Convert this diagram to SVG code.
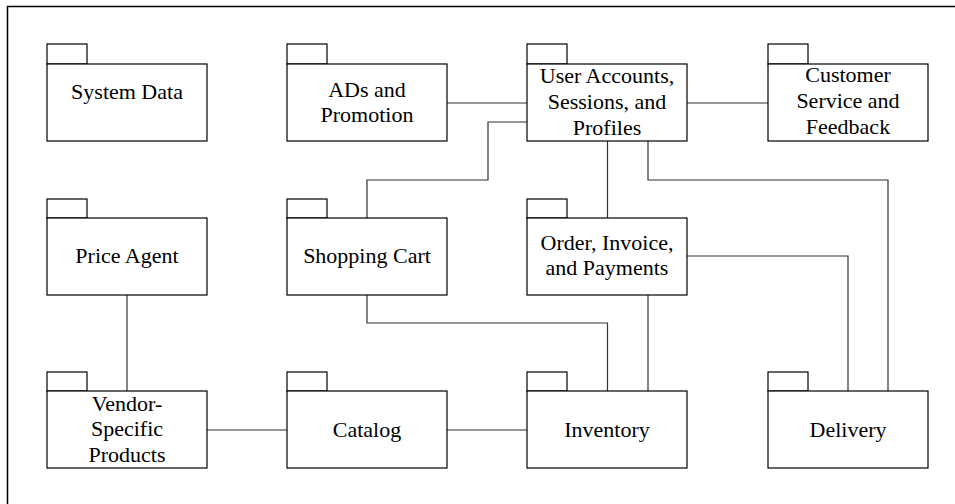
<svg xmlns="http://www.w3.org/2000/svg" width="955" height="504" viewBox="0 0 955 504">
<style>
.pkg{fill:#fff;stroke:#000;stroke-width:1.2}
.lbl{font-family:"Liberation Serif","Times New Roman",serif;font-size:22px;fill:#000;text-anchor:middle}
.con{fill:none;stroke:#333;stroke-width:1.2}
.frame{fill:none;stroke:#000;stroke-width:1.5}
</style>
<rect x="0" y="0" width="955" height="504" fill="#fff"/>
<path class="frame" d="M7.5,504 V6.5 H955"/>
<g id="connectors">
<path class="con" d="M447,103 H527"/>
<path class="con" d="M687,103 H768"/>
<path class="con" d="M367,218 V180 H488 V122 H527"/>
<path class="con" d="M607.5,141 V218"/>
<path class="con" d="M648,141 V180 H888 V391"/>
<path class="con" d="M687,256 H848 V391"/>
<path class="con" d="M648,295 V391"/>
<path class="con" d="M367,295 V323 H607.5 V391"/>
<path class="con" d="M127,295 V391"/>
<path class="con" d="M207,430 H287"/>
<path class="con" d="M447,430 H527"/>
</g>
<g id="system-data">
<rect class="pkg" x="47" y="44" width="40" height="20"/>
<rect class="pkg" x="47" y="64" width="160" height="77"/>
<text class="lbl" x="127" y="99">System Data</text>
</g>
<g id="ads-promotion">
<rect class="pkg" x="287" y="44" width="40" height="20"/>
<rect class="pkg" x="287" y="64" width="160" height="77"/>
<text class="lbl" x="367" y="97">ADs and</text>
<text class="lbl" x="367" y="122">Promotion</text>
</g>
<g id="user-accounts">
<rect class="pkg" x="527" y="44" width="40" height="20"/>
<rect class="pkg" x="527" y="64" width="160" height="77"/>
<text class="lbl" x="607" y="83">User Accounts,</text>
<text class="lbl" x="607" y="109">Sessions, and</text>
<text class="lbl" x="607" y="135">Profiles</text>
</g>
<g id="customer-service">
<rect class="pkg" x="768" y="44" width="40" height="20"/>
<rect class="pkg" x="768" y="64" width="160" height="77"/>
<text class="lbl" x="848" y="82">Customer</text>
<text class="lbl" x="848" y="108">Service and</text>
<text class="lbl" x="848" y="134">Feedback</text>
</g>
<g id="price-agent">
<rect class="pkg" x="47" y="199" width="40" height="19"/>
<rect class="pkg" x="47" y="218" width="160" height="77"/>
<text class="lbl" x="127" y="263">Price Agent</text>
</g>
<g id="shopping-cart">
<rect class="pkg" x="287" y="199" width="40" height="19"/>
<rect class="pkg" x="287" y="218" width="160" height="77"/>
<text class="lbl" x="367" y="263">Shopping Cart</text>
</g>
<g id="order-invoice">
<rect class="pkg" x="527" y="199" width="40" height="19"/>
<rect class="pkg" x="527" y="218" width="160" height="77"/>
<text class="lbl" x="607" y="250">Order, Invoice,</text>
<text class="lbl" x="607" y="275">and Payments</text>
</g>
<g id="vendor-products">
<rect class="pkg" x="47" y="372" width="40" height="19"/>
<rect class="pkg" x="47" y="391" width="160" height="77"/>
<text class="lbl" x="127" y="411">Vendor-</text>
<text class="lbl" x="127" y="436">Specific</text>
<text class="lbl" x="127" y="462">Products</text>
</g>
<g id="catalog">
<rect class="pkg" x="287" y="372" width="40" height="19"/>
<rect class="pkg" x="287" y="391" width="160" height="77"/>
<text class="lbl" x="367" y="437">Catalog</text>
</g>
<g id="inventory">
<rect class="pkg" x="527" y="372" width="40" height="19"/>
<rect class="pkg" x="527" y="391" width="160" height="77"/>
<text class="lbl" x="607" y="437">Inventory</text>
</g>
<g id="delivery">
<rect class="pkg" x="768" y="372" width="40" height="19"/>
<rect class="pkg" x="768" y="391" width="160" height="77"/>
<text class="lbl" x="848" y="437">Delivery</text>
</g>
</svg>
